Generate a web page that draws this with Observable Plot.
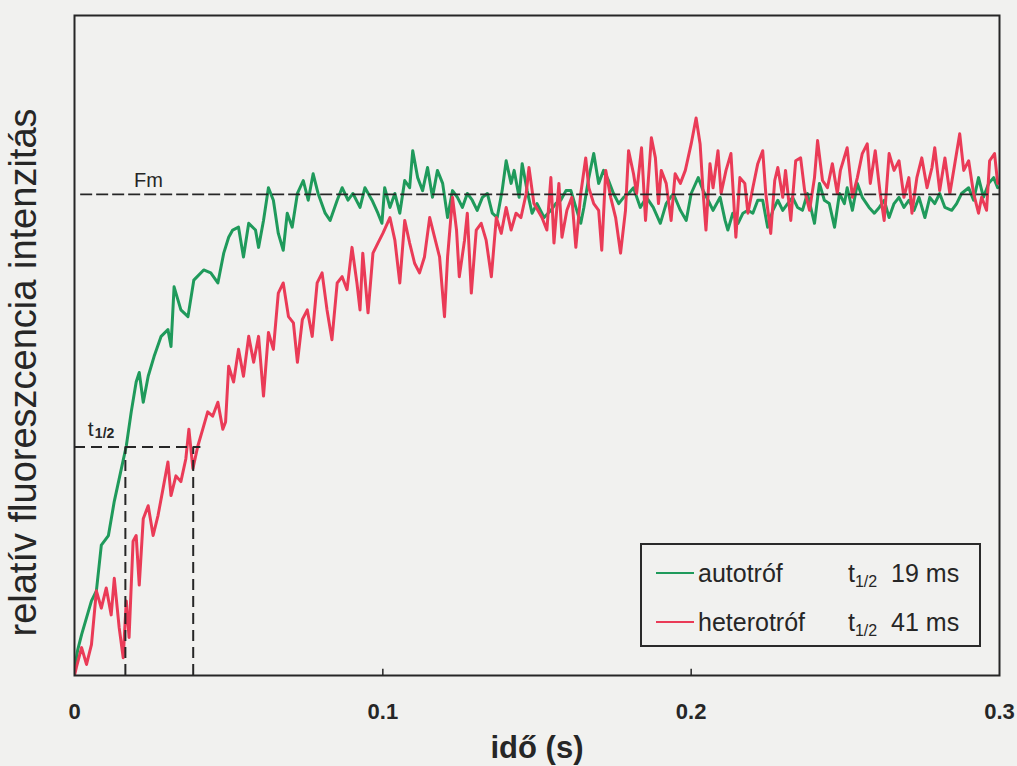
<!DOCTYPE html>
<html>
<head>
<meta charset="utf-8">
<script src="https://cdn.jsdelivr.net/npm/d3@7"></script>
<script src="https://cdn.jsdelivr.net/npm/@observablehq/plot@0.6"></script>
<style>
  body { margin: 0; background: #f1f1ef; }
  #chart { position: relative; width: 1017px; height: 766px; font-family: "Liberation Sans", Arial, sans-serif; color: #262626; }
  #legend { position: absolute; left: 640px; top: 543px; width: 337px; height: 100px; border: 2px solid #2a2a2a; }
  #legend .swatch { position: absolute; left: 14px; width: 38px; height: 2px; }
  #legend .name, #legend .thalf { position: absolute; font-size: 25px; line-height: 26px; white-space: nowrap; }
  #legend .name { left: 56px; }
  #legend .thalf { left: 206px; }
  #legend sub { font-size: 16px; vertical-align: -5px; line-height: 0; }
</style>
</head>
<body>
<div id="chart"></div>
<script>
// Fluorescence induction traces: [time (ms), relative intensity (Fm = 100)]
const autotrofTrace = [
  [0,1.2],[1.0,5.2],[2.3,8.5],[5.5,15.5],[7.1,17.6],[8.7,27.1],[11.0,29.1],[12.9,36.2],[15.2,43.0],[16.8,47.7],
  [18.4,54.8],[20.0,61.0],[21.0,63.0],[22.3,56.8],[23.9,62.2],[25.8,66.3],[28.1,70.5],[30.3,71.9],[31.3,68.4],[32.3,80.8],
  [34.5,76.0],[36.8,74.6],[38.7,82.2],[41.9,84.3],[44.2,83.7],[46.5,81.6],[48.4,87.8],[50.0,91.1],[51.3,92.6],[53.2,93.2],
  [54.8,87.0],[56.5,94.0],[58.7,92.6],[59.7,89.0],[61.3,94.6],[62.9,101.4],[64.5,98.8],[66.1,91.9],[67.7,88.4],[69.0,96.1],
  [70.6,93.2],[72.3,100.2],[74.2,102.9],[75.8,98.8],[77.4,104.3],[79.0,100.2],[81.3,96.1],[82.9,94.6],[85.2,98.8],[86.8,101.4],
  [88.7,98.8],[90.3,100.2],[92.6,97.3],[94.2,101.4],[96.5,98.8],[98.4,96.1],[99.7,94.0],[100.6,101.4],[102.3,97.3],[103.9,100.2],
  [105.5,96.1],[107.1,102.9],[108.7,101.4],[109.7,109.1],[111.3,103.5],[112.9,100.8],[114.5,105.6],[116.1,99.4],[117.7,105.0],[119.4,102.3],
  [121.0,95.2],[122.6,100.8],[124.2,99.4],[125.8,97.3],[127.4,100.2],[129.0,98.8],[130.6,96.7],[132.3,99.4],[133.9,100.2],[135.5,96.1],
  [137.1,95.2],[138.7,100.8],[140.0,107.0],[141.6,102.3],[142.6,105.0],[144.2,99.4],[145.2,106.4],[146.8,100.8],[148.4,96.1],[150.0,98.1],
  [152.3,95.2],[154.5,96.7],[156.1,98.1],[157.7,98.8],[159.4,100.8],[161.0,100.8],[162.6,97.3],[164.2,94.0],[165.2,97.3],[166.8,103.5],
  [168.4,108.5],[170.0,102.3],[171.6,105.0],[173.2,102.9],[174.8,100.2],[176.5,98.1],[178.1,99.4],[179.7,100.2],[181.3,101.4],[183.5,97.3],
  [185.5,99.4],[187.7,97.3],[190.0,94.0],[191.9,98.1],[194.2,100.2],[196.5,96.7],[198.4,94.6],[200.0,100.2],[202.3,103.5],[203.9,100.8],
  [205.5,98.8],[207.1,96.7],[209.4,99.4],[211.0,94.6],[211.9,92.6],[213.5,96.1],[215.2,94.0],[216.8,96.1],[218.4,96.7],[220.0,96.1],
  [221.6,98.8],[223.2,98.8],[224.8,93.2],[226.5,96.7],[228.1,98.8],[229.7,96.7],[231.3,98.1],[232.9,99.4],[234.5,97.3],[236.1,96.7],
  [237.7,100.2],[240.0,94.0],[241.6,102.3],[243.2,98.8],[244.8,98.1],[246.5,93.2],[248.1,100.2],[249.7,98.1],[250.6,101.4],[252.3,96.7],
  [253.9,102.3],[255.5,99.4],[257.7,97.3],[259.4,96.1],[261.0,97.3],[262.6,98.8],[264.2,95.2],[265.8,98.1],[267.4,99.4],[269.0,97.3],
  [270.6,98.8],[272.3,96.7],[273.9,99.4],[275.8,95.2],[277.4,99.4],[279.0,98.1],[280.6,100.2],[282.3,97.3],[284.5,96.7],[286.1,98.1],
  [287.7,100.2],[290.0,101.4],[291.6,98.8],[293.2,103.5],[294.8,99.4],[296.5,102.3],[298.1,103.5],[299.4,101.4]
];

const heterotrofTrace = [
  [0,0],[0.6,1.7],[2.3,5.8],[3.9,2.3],[5.5,6.4],[7.1,17.6],[8.7,14.0],[10.3,18.2],[11.9,12.6],[12.9,20.2],
  [14.5,9.9],[15.8,3.7],[16.8,15.5],[17.7,7.9],[19.0,27.9],[20.0,29.1],[21.0,18.8],[22.3,32.6],[23.9,35.3],[25.5,29.1],
  [27.1,33.3],[28.7,38.8],[30.3,44.4],[31.3,37.4],[32.9,41.5],[34.5,40.3],[36.1,45.0],[37.1,51.2],[38.4,43.0],[40.0,47.7],
  [41.6,51.2],[43.2,54.8],[44.8,53.9],[46.5,56.8],[48.1,51.2],[49.0,52.7],[50.0,64.3],[51.6,61.0],[53.2,67.8],[54.8,62.2],
  [56.5,70.5],[58.1,65.1],[59.7,70.5],[61.3,58.1],[62.9,71.3],[64.5,67.8],[66.1,79.5],[67.7,81.6],[69.4,74.6],[71.0,73.3],
  [72.3,65.1],[73.9,74.0],[75.5,76.0],[77.1,70.5],[78.7,81.6],[80.3,83.7],[81.9,76.0],[83.5,69.8],[85.2,81.6],[86.8,82.9],
  [88.4,80.2],[90.0,89.0],[91.6,81.6],[92.6,76.0],[93.5,87.8],[95.2,75.4],[96.8,87.8],[98.4,89.9],[100.0,91.9],[102.3,95.2],
  [103.9,90.5],[105.5,81.6],[107.1,94.6],[108.7,89.9],[110.3,85.7],[111.9,83.7],[113.5,87.0],[115.2,95.2],[116.8,91.1],[118.4,87.0],
  [120.0,74.6],[121.0,87.0],[122.6,99.4],[123.9,92.6],[124.8,82.9],[126.5,90.5],[127.4,96.1],[128.7,79.5],[130.3,92.6],[131.9,94.0],
  [133.5,90.5],[135.2,82.9],[136.8,95.2],[138.4,91.9],[140.0,97.3],[141.6,92.6],[143.2,96.1],[144.8,95.2],[146.5,100.2],[147.4,105.6],
  [149.0,98.1],[151.6,95.2],[153.2,92.6],[154.5,103.5],[155.5,89.9],[157.1,102.3],[158.1,91.1],[159.7,96.7],[161.3,99.4],[162.6,89.0],
  [164.2,100.2],[165.8,107.6],[166.8,101.4],[168.4,98.1],[170.0,96.7],[171.0,88.4],[172.3,105.0],[173.9,99.4],[175.5,95.2],[177.1,87.8],
  [178.7,96.7],[179.7,109.1],[181.3,104.3],[182.3,100.2],[183.9,109.7],[185.2,94.6],[186.1,102.9],[187.1,111.8],[188.4,107.6],[189.4,98.1],
  [190.3,105.0],[191.9,102.3],[193.5,94.6],[194.8,104.3],[196.5,102.3],[198.1,105.0],[199.0,107.6],[200.0,110.5],[201.6,115.9],[202.9,110.5],
  [203.9,100.2],[204.8,92.6],[206.1,106.4],[207.1,101.4],[208.7,109.1],[209.7,100.2],[211.3,105.0],[212.9,108.5],[214.5,91.1],[215.8,103.5],
  [217.4,102.3],[218.4,96.1],[220.0,101.4],[221.6,106.4],[223.2,109.1],[224.2,100.2],[225.8,91.9],[227.1,102.9],[228.1,105.6],[229.7,99.4],
  [230.6,105.0],[232.3,94.6],[233.9,107.0],[235.5,107.6],[236.8,100.8],[238.4,96.7],[240.0,103.5],[241.0,111.2],[242.6,102.9],[244.2,101.4],
  [245.8,106.4],[247.4,100.2],[248.4,105.0],[250.6,109.7],[252.3,99.4],[253.9,103.5],[255.5,108.5],[257.1,110.5],[258.1,102.3],[259.7,109.1],
  [261.3,100.2],[262.6,94.6],[264.2,108.5],[265.8,105.0],[267.4,107.0],[269.0,99.4],[270.6,103.5],[271.6,96.1],[273.2,103.5],[274.8,107.6],
  [276.5,101.4],[278.1,105.6],[279.0,109.7],[280.6,100.8],[282.3,107.6],[283.9,100.2],[285.5,106.4],[287.1,112.6],[288.4,105.0],[290.0,107.0],
  [291.6,100.2],[293.2,96.1],[294.2,99.4],[295.8,96.7],[296.8,107.0],[298.4,108.5],[299.4,102.3]
];

const seriesNames = ["autotróf", "heterotróf"];
const seriesColors = ["#1f9a5b", "#ea3b57"];
const halfTimesMs = [19, 41];          // t1/2 per series, measured from flash onset
const onsetMs = -2.5;                  // flash onset relative to the time axis origin
const fmLevel = 100;                   // maximal fluorescence
const halfLevel = 47.5;                // half-rise level
const xTicks = [0, 0.1, 0.2, 0.3];
const yMax = 137.2;

const toRows = (trace, name) => trace.map(([t, f]) => ({t: t / 1000, f, name}));
const rows = [
  ...toRows(autotrofTrace, seriesNames[0]),
  ...toRows(heterotrofTrace, seriesNames[1])
];

const ink = "#262626";
const dash = "11,6";
const tickLabel = d => d === 0 ? "0" : d.toFixed(1);

const chart = Plot.plot({
  width: 1017,
  height: 766,
  marginLeft: 74,
  marginRight: 18,
  marginTop: 15,
  marginBottom: 91,
  style: {background: "transparent", fontFamily: "'Liberation Sans', Arial, sans-serif", color: ink},
  x: {domain: [0, 0.3], axis: null},
  y: {domain: [0, yMax], axis: null},
  color: {domain: seriesNames, range: seriesColors},
  marks: [
    Plot.line(rows, {x: "t", y: "f", z: "name", stroke: "name", strokeWidth: 3, strokeLinejoin: "round", clip: true}),
    // Fm reference level
    Plot.ruleY([fmLevel], {x1: 0.002, x2: 0.3, stroke: ink, strokeWidth: 1.8, strokeDasharray: "12,4"}),
    Plot.text(["Fm"], {x: 0.024, y: fmLevel, dy: -14, fontSize: 20, fill: ink}),
    // half-rise construction lines
    Plot.ruleY([halfLevel], {x1: 0, x2: halfTimesMs[1] / 1000, stroke: ink, strokeWidth: 2, strokeDasharray: dash}),
    Plot.ruleX(halfTimesMs, {x: d => (d + onsetMs) / 1000, y1: 0, y2: halfLevel, stroke: ink, strokeWidth: 2, strokeDasharray: dash}),
    Plot.text(["t"], {x: 0.0043, y: halfLevel, dy: -18, textAnchor: "start", fontSize: 21, fill: ink}),
    Plot.text(["1/2"], {x: 0.0066, y: halfLevel, dy: -13, textAnchor: "start", fontSize: 14, fontWeight: "bold", fill: ink}),
    // inward ticks and tick labels on the time axis
    Plot.ruleX(xTicks.slice(1, -1), {x: d => d, y1: 0, y2: 1.3, stroke: ink, strokeWidth: 1.5}),
    Plot.frame({stroke: ink, strokeWidth: 2}),
    Plot.text(xTicks, {x: d => d, frameAnchor: "bottom", dy: 36, text: tickLabel, lineAnchor: "middle",
      fontSize: 22, fontWeight: "bold", fill: ink}),
    Plot.text(["idő (s)"], {frameAnchor: "bottom", dy: 73, lineAnchor: "middle", fontSize: 31, fontWeight: "bold", fill: ink}),
    Plot.text(["relatív fluoreszcencia intenzitás"], {frameAnchor: "left", textAnchor: "middle", dx: -51, dy: 27, rotate: -90, fontSize: 38, fill: ink})
  ]
});

const host = document.getElementById("chart");
host.appendChild(chart);

// legend box with half-rise times
const legend = document.createElement("div");
legend.id = "legend";
seriesNames.forEach((name, i) => {
  const mid = 28 + i * 49;
  const sw = document.createElement("div");
  sw.className = "swatch";
  sw.style.top = (mid - 1) + "px";
  sw.style.background = seriesColors[i];
  const lab = document.createElement("div");
  lab.className = "name";
  lab.style.top = (mid - 13) + "px";
  lab.textContent = name;
  const th = document.createElement("div");
  th.className = "thalf";
  th.style.top = (mid - 13) + "px";
  th.innerHTML = `t<sub>1/2</sub>&nbsp; ${halfTimesMs[i]} ms`;
  legend.append(sw, lab, th);
});
host.appendChild(legend);
</script>
</body>
</html>
